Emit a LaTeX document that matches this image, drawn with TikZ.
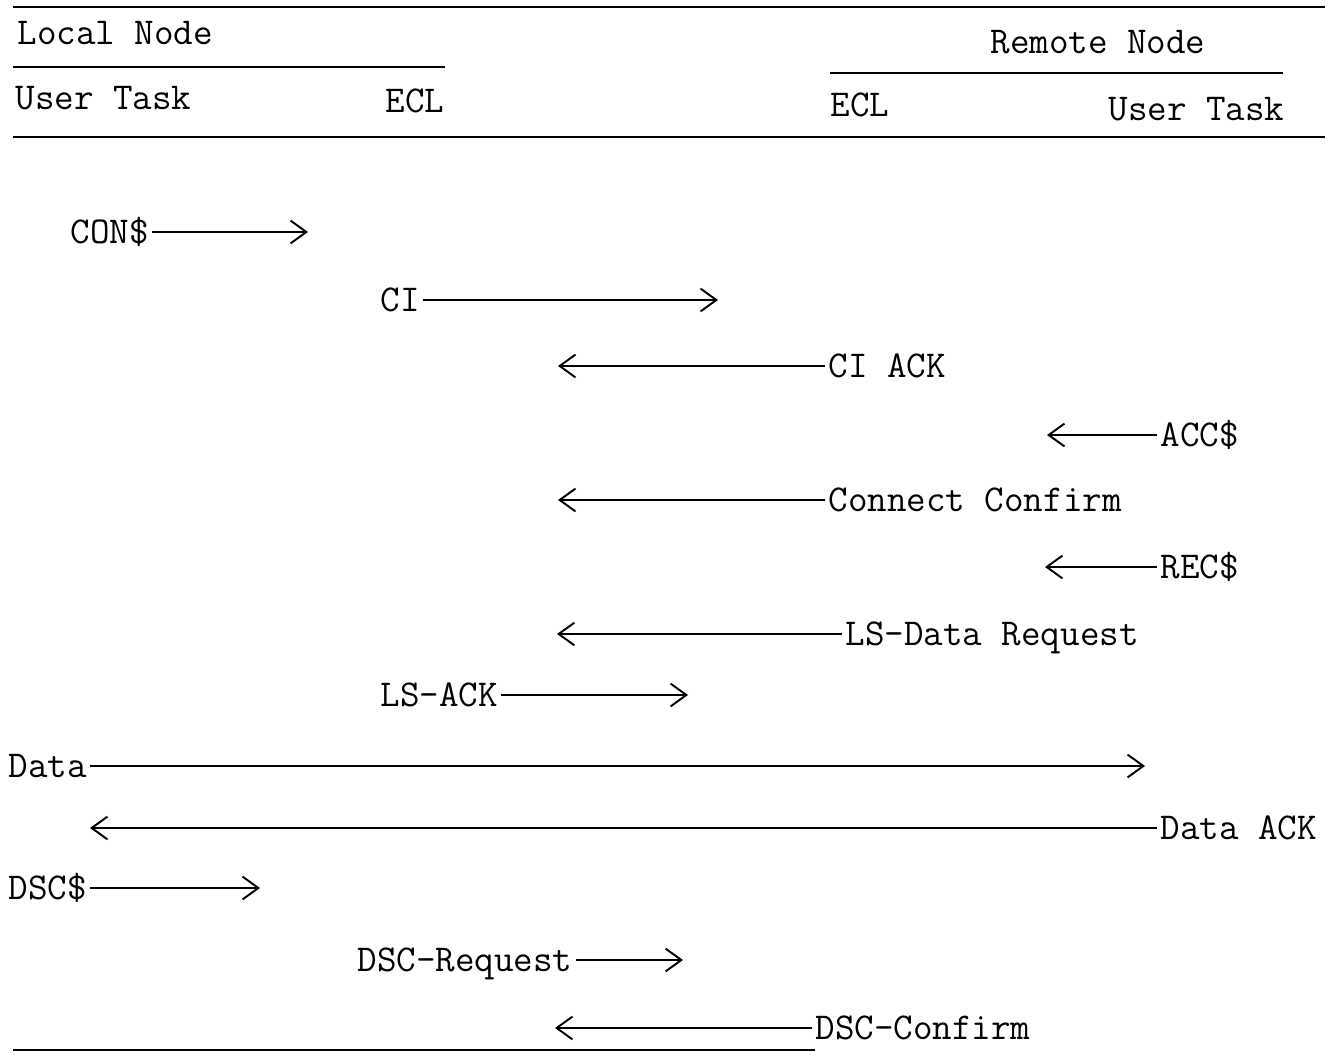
\documentclass[tikz,border=0pt]{standalone}
\usepackage{fontspec}
\setmonofont{Latin Modern Mono}
\usetikzlibrary{arrows.meta}
\newcommand{\msgfont}{\ttfamily\fontsize{21.6}{25}\selectfont}

\begin{document}
\begin{tikzpicture}[x=0.02cm, y=-0.02cm,
		lbl/.style={font=\msgfont, inner sep=0pt, outer sep=2pt, text height=12.8pt, text depth=0pt, anchor=west},
		rule/.style={line width=1.1pt},
		msg/.style={line width=1.1pt, -{Straight Barb[length=9pt, width=13pt, line width=1.1pt]}}]
		%%%%% START %%%%%
		
		\useasboundingbox (0, 0) rectangle (1335, 1061);
		
		% header
		\draw[rule] (13, 7) -- (1325, 7);
		\node[lbl] (localnode) at (14, 33) {Local Node};
		\draw[rule] (13, 67) -- (445, 67);
		\node[lbl] (localtask) at (12, 98) {User Task};
		\node[lbl] (localecl) at (382, 101) {ECL};
		
		\node[lbl] (remotenode) at (987, 42) {Remote Node};
		\draw[rule] (830, 73) -- (1283, 73);
		\node[lbl] (remoteecl) at (827, 105) {ECL};
		\node[lbl] (remotetask) at (1105, 109) {User Task};
		\draw[rule] (13, 137) -- (1325, 137);
		
		% connect
		\node[lbl] (cons) at (67, 232) {CON\$};
		\coordinate (consend) at (308, 232);
		\draw[msg] (cons) -- (consend);
		
		\node[lbl] (ci) at (377, 300) {CI};
		\coordinate (ciend) at (718, 300);
		\draw[msg] (ci) -- (ciend);
		
		\node[lbl] (ciack) at (825, 366) {CI ACK};
		\coordinate (ciackend) at (558, 366);
		\draw[msg] (ciack) -- (ciackend);
		
		\node[lbl] (acc) at (1157, 435) {ACC\$};
		\coordinate (accend) at (1047, 435);
		\draw[msg] (acc) -- (accend);
		
		\node[lbl] (conconf) at (825, 500) {Connect Confirm};
		\coordinate (conconfend) at (558, 500);
		\draw[msg] (conconf) -- (conconfend);
		
		% data
		\node[lbl] (rec) at (1157, 567) {REC\$};
		\coordinate (recend) at (1045, 567);
		\draw[msg] (rec) -- (recend);
		
		\node[lbl] (lsdata) at (842, 634) {LS-Data Request};
		\coordinate (lsdataend) at (557, 634);
		\draw[msg] (lsdata) -- (lsdataend);
		
		\node[lbl] (lsack) at (377, 695) {LS-ACK};
		\coordinate (lsackend) at (688, 695);
		\draw[msg] (lsack) -- (lsackend);
		
		\node[lbl] (data) at (5, 766) {Data};
		\coordinate (dataend) at (1145, 766);
		\draw[msg] (data) -- (dataend);
		
		\node[lbl] (dataack) at (1157, 828) {Data ACK};
		\coordinate (dataackend) at (90, 828);
		\draw[msg] (dataack) -- (dataackend);
		
		% disconnect
		\node[lbl] (dsc) at (5, 888) {DSC\$};
		\coordinate (dscend) at (260, 888);
		\draw[msg] (dsc) -- (dscend);
		
		\node[lbl] (dscreq) at (354, 960) {DSC-Request};
		\coordinate (dscreqend) at (683, 960);
		\draw[msg] (dscreq) -- (dscreqend);
		
		\node[lbl] (dscconf) at (812, 1028) {DSC-Confirm};
		\coordinate (dscconfend) at (555, 1028);
		\draw[msg] (dscconf) -- (dscconfend);
		
		\draw[rule] (13, 1050) -- (815, 1050);
		
		%%%%% END %%%%%
\end{tikzpicture}
\end{document}
